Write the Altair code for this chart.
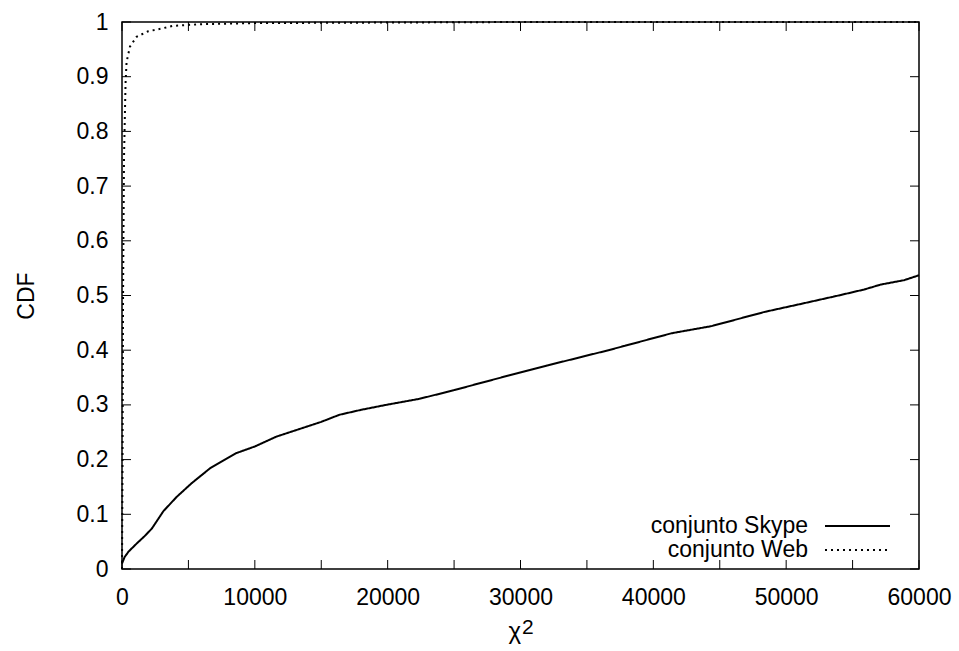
import altair as alt
import pandas as pd

# ---------------- data ----------------
skype_x = [0, 200, 500, 1125, 1700, 2250, 3125, 4125, 5250, 6625, 7750, 8625,
           10000, 11625, 13875, 15000, 16375, 18000, 19875, 22375, 25000,
           28375, 32000, 36625, 41375, 44375, 48375, 51000, 54125, 55875,
           57125, 58875, 60000]
skype_y = [0.010, 0.022, 0.032, 0.047, 0.060, 0.074, 0.106, 0.132, 0.157,
           0.184, 0.200, 0.212, 0.224, 0.242, 0.260, 0.269, 0.282, 0.291,
           0.300, 0.311, 0.327, 0.349, 0.372, 0.400, 0.431, 0.444, 0.470,
           0.484, 0.501, 0.511, 0.520, 0.528, 0.537]

web_x = [0, 40, 80, 150, 225, 270, 345, 600, 1100, 1970, 2970, 3850, 6000,
         10000, 20000, 30000, 60000]
web_y = [0.0, 0.20, 0.50, 0.75, 0.84, 0.89, 0.927, 0.955, 0.973, 0.983,
         0.988, 0.993, 0.996, 0.998, 0.999, 1.0, 1.0]

series_names = ["conjunto Skype", "conjunto Web"]
x_ticks = list(range(0, 60001, 5000))
x_label_vals = list(range(0, 60001, 10000))
y_ticks = [round(i * 0.1, 1) for i in range(11)]
x_title_base = "χ"
x_title_sup = "2"

# ---------------- layout / style ----------------
W, H = 797, 547
FONT = "Liberation Sans"
FS = 23
LFS = 23
TICK = 9
DOT = [2, 4]

df = pd.concat([
    pd.DataFrame({"x": skype_x, "y": skype_y, "series": series_names[0], "o": range(len(skype_x))}),
    pd.DataFrame({"x": web_x, "y": web_y, "series": series_names[1], "o": range(len(web_x))}),
])

xs = alt.Scale(domain=[0, 60000], nice=False, zero=False)
ys = alt.Scale(domain=[0, 1], nice=False, zero=False)
dash_scale = alt.Scale(domain=series_names, range=[[1, 0], DOT])

lines = alt.Chart(df).mark_line(color="black", strokeWidth=2).encode(
    x=alt.X("x:Q", scale=xs,
            axis=alt.Axis(values=x_label_vals, format="d", title=None,
                          ticks=False, domain=False, grid=False,
                          labelFlush=False, labelOverlap=False,
                          labelPadding=17)),
    y=alt.Y("y:Q", scale=ys,
            axis=alt.Axis(values=y_ticks, title="CDF", ticks=False,
                          domain=False, grid=False, labelPadding=14,
                          labelFlush=False, labelOverlap=False,
                          titlePadding=38,
                          labelExpr="datum.value == 0 ? '0' : datum.value == 1 ? '1' : format(datum.value, '.1f')")),
    strokeDash=alt.StrokeDash("series:N", scale=dash_scale, legend=None),
    detail="series:N",
    order="o:Q",
)

xt = pd.DataFrame({"xv": x_ticks})
yt = pd.DataFrame({"yv": y_ticks})
tick_b = alt.Chart(xt).mark_rule(color="black", strokeWidth=1).encode(
    x=alt.X("xv:Q", scale=xs), y=alt.value(H), y2=alt.value(H - TICK))
tick_t = alt.Chart(xt).mark_rule(color="black", strokeWidth=1).encode(
    x=alt.X("xv:Q", scale=xs), y=alt.value(0), y2=alt.value(TICK))
tick_l = alt.Chart(yt).mark_rule(color="black", strokeWidth=1).encode(
    y=alt.Y("yv:Q", scale=ys), x=alt.value(0), x2=alt.value(TICK))
tick_r = alt.Chart(yt).mark_rule(color="black", strokeWidth=1).encode(
    y=alt.Y("yv:Q", scale=ys), x=alt.value(W), x2=alt.value(W - TICK))

# x-axis title: chi with a raised 2
xt_base = alt.Chart(pd.DataFrame({"t": [x_title_base]})).mark_text(
    align="right", baseline="alphabetic", font=FONT, fontSize=24, color="black"
).encode(text="t:N", x=alt.value(399), y=alt.value(617))
xt_sup = alt.Chart(pd.DataFrame({"t": [x_title_sup]})).mark_text(
    align="left", baseline="alphabetic", font=FONT, fontSize=21, color="black"
).encode(text="t:N", x=alt.value(400), y=alt.value(612))

legend_layers = []
leg_rows = [504, 528]
for name, ly, dash in zip(series_names, leg_rows, [[1, 0], DOT]):
    ldf = pd.DataFrame({"name": [name]})
    legend_layers.append(
        alt.Chart(ldf).mark_text(align="right", baseline="middle", font=FONT,
                                 fontSize=LFS, color="black").encode(
            text="name:N", x=alt.value(686), y=alt.value(ly)))
    legend_layers.append(
        alt.Chart(ldf).mark_rule(color="black", strokeWidth=2, strokeDash=dash).encode(
            x=alt.value(703), x2=alt.value(768), y=alt.value(ly)))

chart = alt.layer(lines, tick_b, tick_t, tick_l, tick_r, xt_base, xt_sup,
                  *legend_layers).properties(
    width=W, height=H,
    background="white",
    autosize=alt.AutoSizeParams(type="none"),
    padding={"left": 122, "top": 22, "right": 40, "bottom": 82},
).configure_view(
    stroke="black", strokeWidth=1.5, fill="white"
).configure_axis(
    labelFont=FONT, titleFont=FONT, labelFontSize=FS, titleFontSize=FS,
    labelColor="black", titleColor="black", titleFontWeight="normal",
)

chart.save("out.html", embed_options={"renderer": "svg", "actions": False})
